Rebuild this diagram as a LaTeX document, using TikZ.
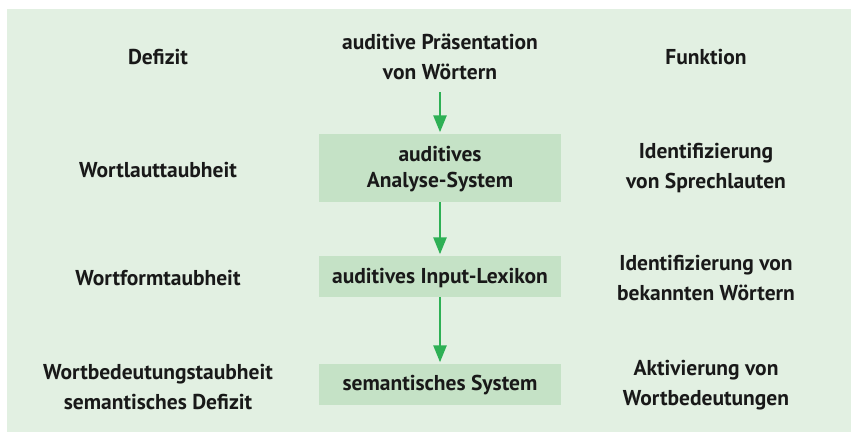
\documentclass[tikz,border=0pt]{standalone}
\usepackage{fontspec}
\setmainfont{PT Sans}
\usetikzlibrary{arrows.meta}
\definecolor{bgg}{RGB}{226,240,226}
\definecolor{boxg}{RGB}{197,226,198}
\definecolor{arrg}{RGB}{46,176,85}
\tikzset{
  lbl/.style={font=\fontsize{21.5}{30}\selectfont\bfseries, align=center, inner sep=0pt, text=black!90},
  boxlbl/.style={lbl, font=\fontsize{21.5}{26}\selectfont\bfseries},
  gbox/.style={fill=boxg, minimum width=242pt, inner sep=0pt},
  arr/.style={draw=arrg, line width=2.6pt, -{Triangle[length=17pt,width=13pt]}, shorten >=1.5pt}
}
\begin{document}
\begin{tikzpicture}[x=1pt,y=-1pt]
\useasboundingbox (0,0) rectangle (851,432);
\fill[bgg] (7,9) rectangle (851,432);
% header
\node[lbl] (hdef) at (158,57) {Defizit};
\node[lbl] (hin) at (440,57) {auditive Präsentation\\von Wörtern};
\node[lbl] (hfun) at (706,57) {Funktion};
% boxes
\node[gbox, minimum height=68pt] (b1) at (440,168) {};
\node[boxlbl] (t1) at (440,169) {auditives\\Analyse-System};
\node[gbox, minimum height=41pt] (b2) at (440,276.5) {};
\node[boxlbl] (t2) at (440,277.5) {auditives Input-Lexikon};
\node[gbox, minimum height=41pt] (b3) at (440,384.5) {};
\node[boxlbl] (t3) at (440,385.5) {semantisches System};
% left column
\node[lbl] (l1) at (158,170) {Wortlauttaubheit};
\node[lbl] (l2) at (158,278) {Wortformtaubheit};
\node[lbl] (l3) at (158,387) {Wortbedeutungstaubheit\\semantisches Defizit};
% right column
\node[lbl] (r1) at (706,168) {Identifizierung\\von Sprechlauten};
\node[lbl] (r2) at (706,278) {Identifizierung von\\bekannten Wörtern};
\node[lbl] (r3) at (706,385) {Aktivierung von\\Wortbedeutungen};
% arrows
\coordinate (a0) at (440,92);
\draw[arr] (a0) -- (b1.north);
\draw[arr] (b1.south) -- (b2.north);
\draw[arr] (b2.south) -- (b3.north);
\end{tikzpicture}
\end{document}
